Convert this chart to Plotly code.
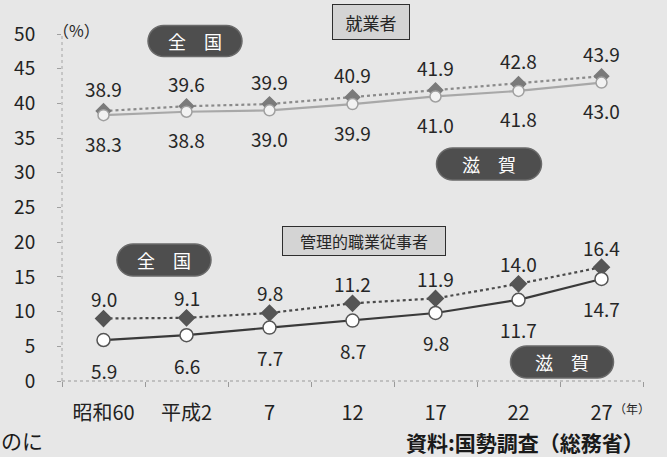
import math
import plotly.graph_objects as go

# 年次（国勢調査）
years = ["昭和60", "平成2", "7", "12", "17", "22", "27"]

# 就業者に占める女性の割合（%）
emp_national = [38.9, 39.6, 39.9, 40.9, 41.9, 42.8, 43.9]
emp_shiga = [38.3, 38.8, 39.0, 39.9, 41.0, 41.8, 43.0]

# 管理的職業従事者に占める女性の割合（%）
mgr_national = [9.0, 9.1, 9.8, 11.2, 11.9, 14.0, 16.4]
mgr_shiga = [5.9, 6.6, 7.7, 8.7, 9.8, 11.7, 14.7]

y_ticks = [0, 5, 10, 15, 20, 25, 30, 35, 40, 45, 50]

W, H = 667, 457
ML, MR, MT, MB = 62, 24, 34, 76
PW, PH = W - ML - MR, H - MT - MB
FONT = "Noto Sans CJK JP"
BG = "#e7e7e7"
INK = "#262626"


def px(x):
    return (x - ML) / PW


def py(y):
    return (H - MB - y) / PH


def text_at(x, y, text, size, color=INK, xanchor="center", **kw):
    return dict(x=px(x), y=py(y), xref="paper", yref="paper", text=text,
                showarrow=False, xanchor=xanchor, yanchor="middle",
                font=dict(family=FONT, size=size, color=color), **kw)


fig = go.Figure()

series = [
    (emp_national, "dot", "#8a8a8a", "diamond", "#7a7a7a", "#7a7a7a", 11),
    (emp_shiga, "solid", "#a8a8a8", "circle", "#f2f2f2", "#a0a0a0", 11),
    (mgr_national, "dot", "#4a4a4a", "diamond", "#555555", "#555555", 12),
    (mgr_shiga, "solid", "#3a3a3a", "circle", "#ffffff", "#555555", 13),
]
for vals, dash, lc, sym, fc, mlc, ms in series:
    fig.add_trace(go.Scatter(
        x=years, y=vals, mode="lines+markers",
        line=dict(color=lc, width=2.2, dash=dash),
        marker=dict(symbol=sym, size=ms, color=fc, line=dict(color=mlc, width=1.5)),
        showlegend=False, hoverinfo="skip",
    ))

annotations = []
# 数値ラベル（カテゴリ位置はインデックスで指定）
for vals, shift in [(emp_national, 23), (emp_shiga, -28), (mgr_national, 20), (mgr_shiga, -30)]:
    for i, v in enumerate(vals):
        annotations.append(dict(
            x=i, y=v, xref="x", yref="y", text=f"{v:.1f}", showarrow=False,
            xanchor="center", yanchor="middle", yshift=shift,
            font=dict(family=FONT, size=19, color=INK),
        ))

shapes = []


def pill(cx, cy, w, h, label):
    r = h / 2
    pts = []
    # 右端の半円
    for i in range(0, 19):
        a = -math.pi / 2 + math.pi * i / 18
        pts.append((cx + w / 2 - r + r * math.cos(a), cy + r * math.sin(a)))
    # 左端の半円
    for i in range(0, 19):
        a = math.pi / 2 + math.pi * i / 18
        pts.append((cx - w / 2 + r + r * math.cos(a), cy + r * math.sin(a)))
    path = "M " + " L ".join(f"{px(x):.5f},{py(y):.5f}" for x, y in pts) + " Z"
    shapes.append(dict(type="path", xref="paper", yref="paper", path=path,
                       fillcolor="#4e4e4e", line=dict(color="#6a6a6a", width=1.5),
                       layer="above"))
    annotations.append(text_at(cx, cy, label, 18, "#ffffff"))


pill(195, 41, 94, 31, "全　国")
pill(489, 164, 105, 32, "滋　賀")
pill(164, 260, 94, 32, "全　国")
pill(562, 362, 103, 32, "滋　賀")

# 見出しボックス
for cx, cy, w, h, fs, label in [(371, 22, 74, 32, 17, "就業者"),
                                (364, 241, 160, 26, 16, "管理的職業従事者")]:
    annotations.append(text_at(cx, cy, label, fs, width=w, height=h,
                               bgcolor="#d4d4d4", bordercolor="#2e2e2e", borderwidth=1))

# 単位・出典
annotations += [
    text_at(76, 30, "（%）", 16),
    text_at(632, 408, "（年）", 12),
    text_at(645, 442, "<b>資料:国勢調査（総務省）</b>", 21, "#1a1a1a",
            xanchor="right", borderpad=0),
    text_at(0, 440, "のに", 21, "#1a1a1a", xanchor="left", borderpad=0),
]

# 点線の軸線
shapes += [
    dict(type="line", xref="paper", yref="paper", x0=0, x1=1, y0=0, y1=0,
         line=dict(color="#9a9a9a", width=1.2, dash="dot"), layer="below"),
    dict(type="line", xref="paper", yref="paper", x0=0, x1=0, y0=0, y1=1,
         line=dict(color="#b0b0b0", width=1.2, dash="dot"), layer="below"),
]

fig.update_layout(
    width=W, height=H,
    margin=dict(l=ML, r=MR, t=MT, b=MB, pad=0),
    paper_bgcolor=BG, plot_bgcolor=BG,
    annotations=annotations, shapes=shapes,
    font=dict(family=FONT, color=INK),
)
fig.update_xaxes(
    type="category", range=[-0.5, 6.5], tickson="boundaries",
    ticks="outside", ticklen=5, tickcolor="#9a9a9a", tickwidth=1,
    showline=False, showgrid=False, zeroline=False,
    tickfont=dict(family=FONT, size=20, color="#222222"), ticklabelstandoff=18,
)
fig.update_yaxes(
    range=[0, 50], tickvals=y_ticks, ticks="outside", ticklen=4,
    tickcolor="#a0a0a0", showline=False, showgrid=False, zeroline=False,
    tickfont=dict(family=FONT, size=19, color="#222222"), ticklabelstandoff=18,
)

fig.write_html("out.html")
